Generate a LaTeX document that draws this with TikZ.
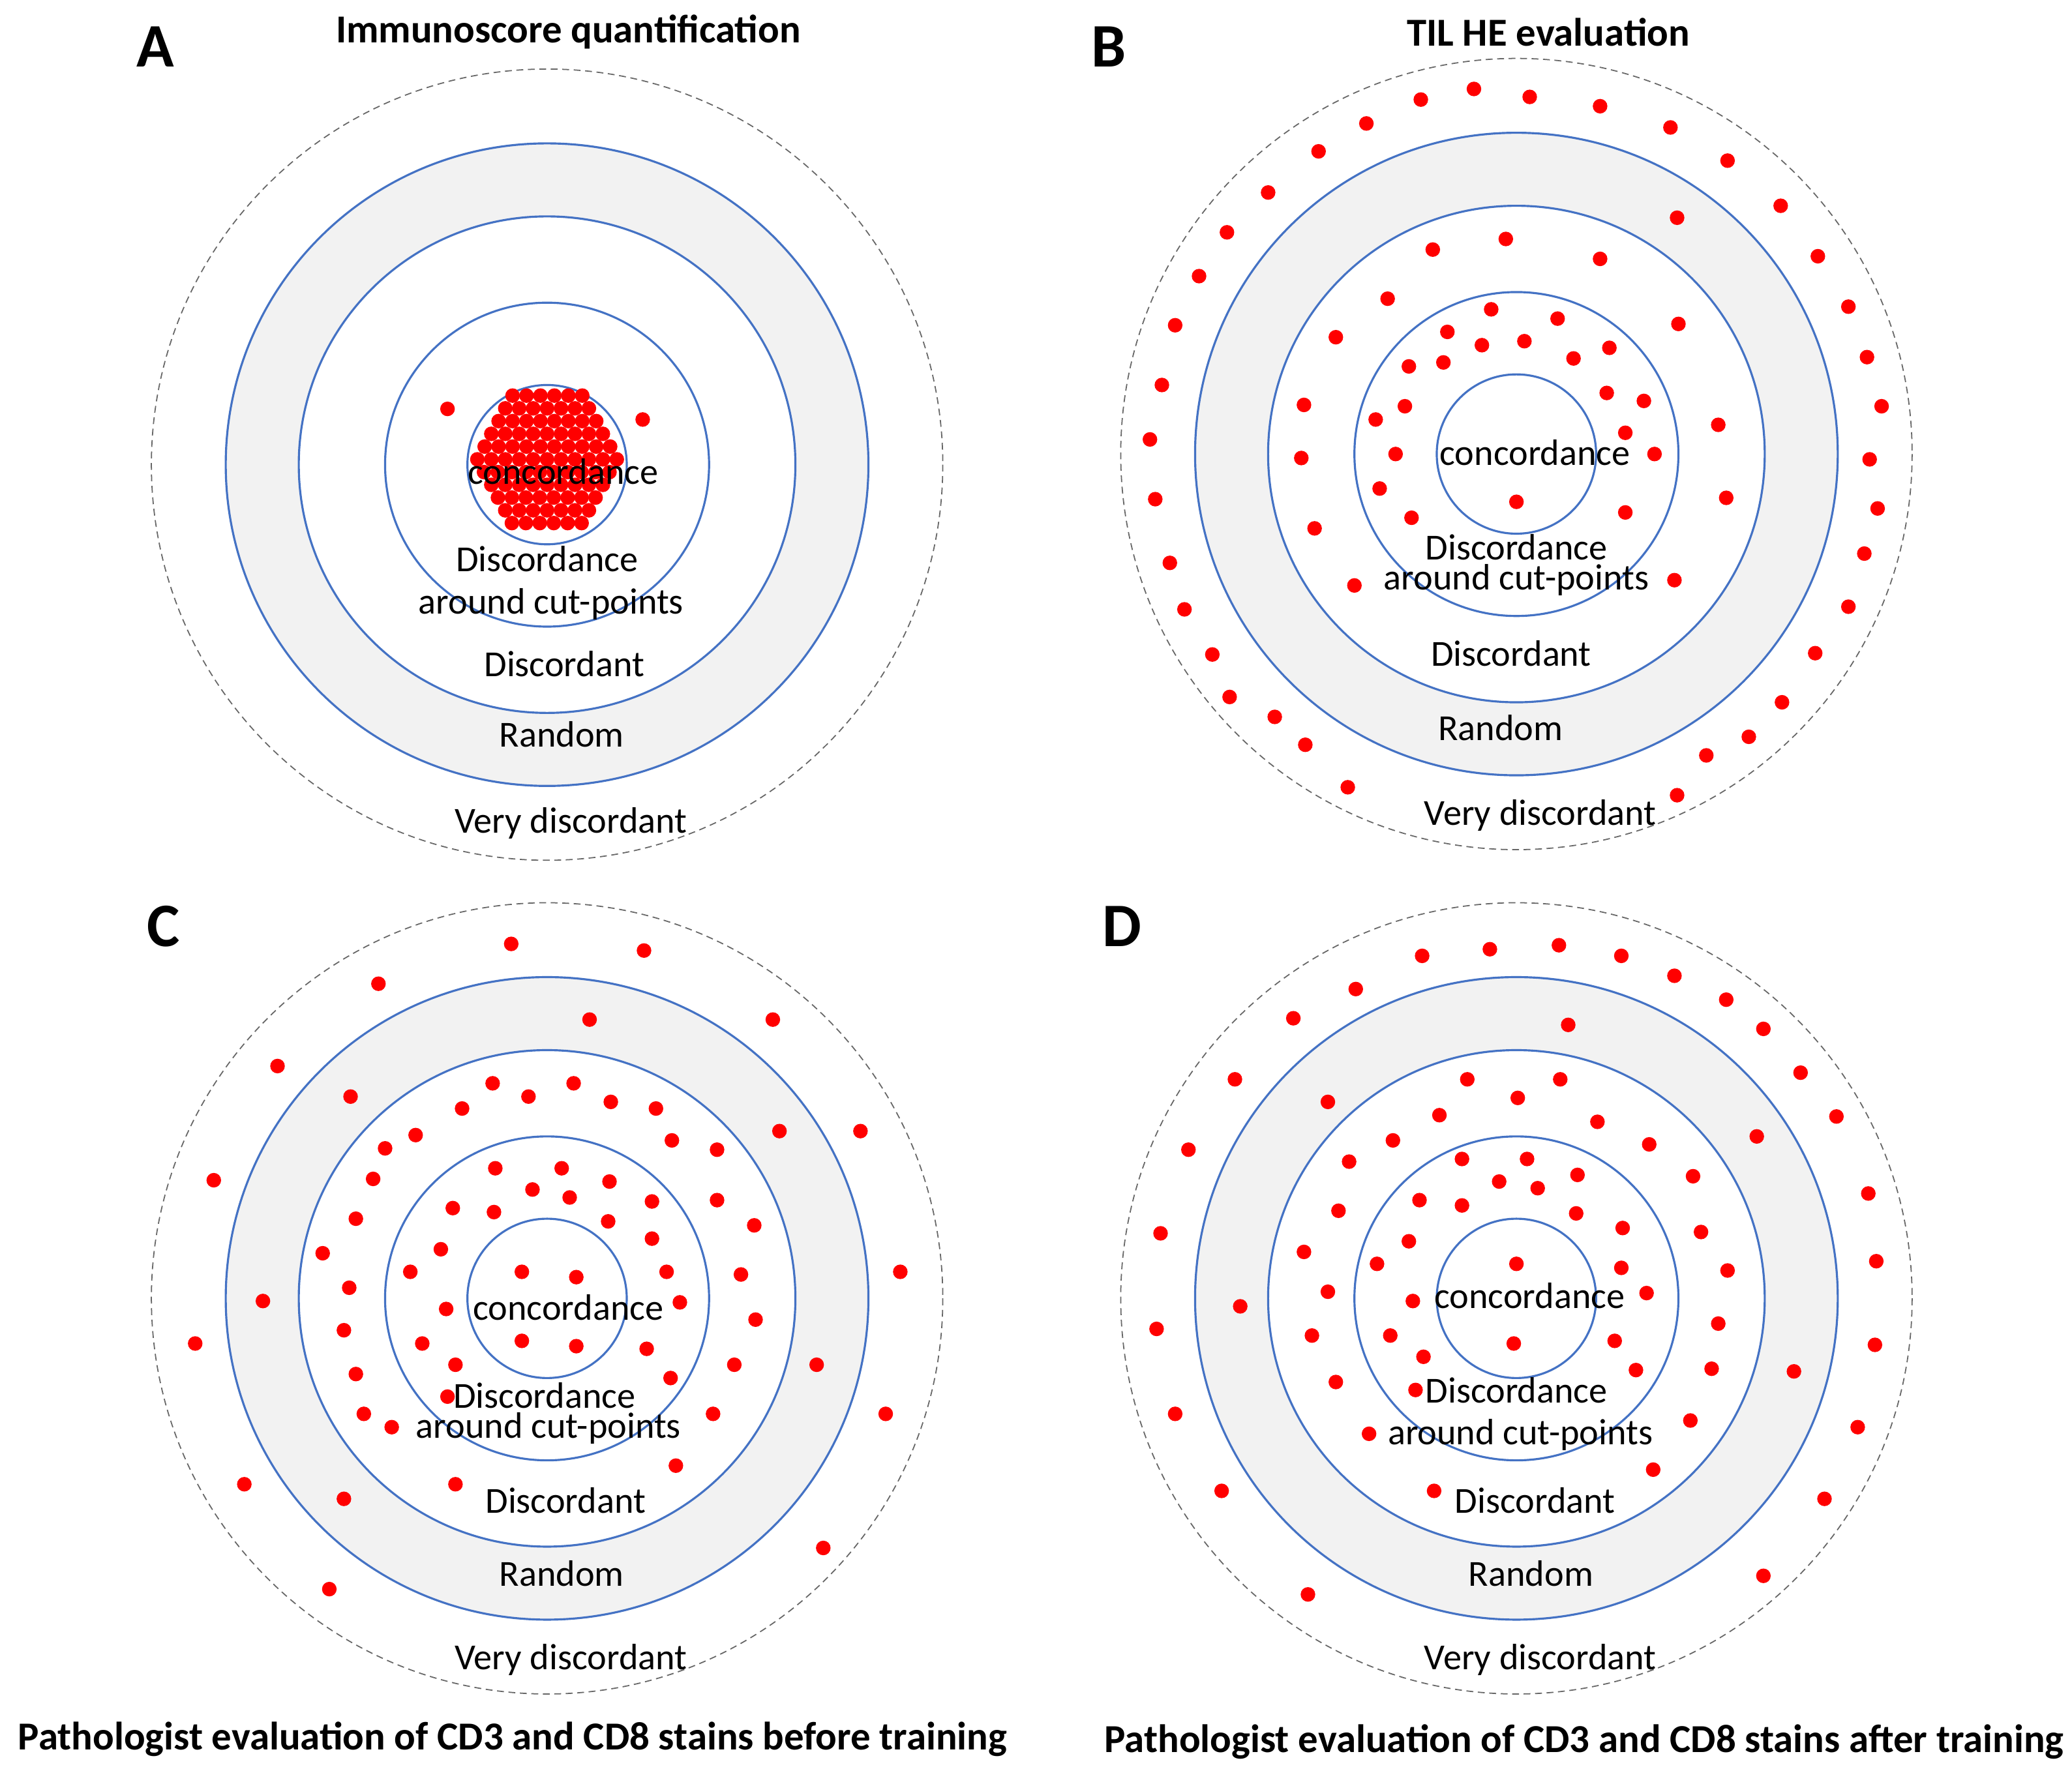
\documentclass[tikz,border=0pt]{standalone}
\usepackage{fontspec}
\setmainfont{Carlito}
\begin{document}
\begin{tikzpicture}[x=0.02036cm,y=-0.02036cm,
  blue ring/.style={draw={rgb,255:red,68;green,114;blue,196},line width=0.9pt},
  dot/.style={fill=red,draw=none},
  lab/.style={font=\fontsize{16}{18}\selectfont,inner sep=0pt},
  ttl/.style={font=\bfseries\fontsize{17.3}{19}\selectfont,inner sep=0pt},
  big/.style={font=\bfseries\fontsize{27}{29}\selectfont,inner sep=0pt}]
\useasboundingbox (0,0) rectangle (1560.4,1332.5);
\definecolor{ringgray}{RGB}{242,242,242}
\foreach \cx/\cy in {412/350,1142/342,412/978,1142/978}{
  \draw[gray!80!black,densely dashed,line width=0.5pt,fill=white] (\cx,\cy) circle (298);
  \fill[ringgray] (\cx,\cy) circle (242);
  \fill[white] (\cx,\cy) circle (187);
  \foreach \r in {242,187,122,60} \draw[blue ring] (\cx,\cy) circle (\r);
}
% Dots panel A
\foreach \i in {-5,...,5}{\foreach \j in {-5,...,5}{
  \pgfmathsetmacro{\px}{412+\i*10.5+mod(\j,2)*5}
  \pgfmathsetmacro{\py}{346+\j*9.6}
  \pgfmathsetmacro{\d}{sqrt((\px-412)^2+(\py-346)^2)}
  \ifdim\d pt<55pt \fill[red] (\px,\py) circle (5.5);\fi}}
\foreach \p in {(337,308),(484,316)} \fill[red] \p circle (5.5);
% Panel B
\foreach \p in {(1110,67),(1152,73),(1205,80),(1070,75),(1029,93),(993,114),(955,145),(924,175),(903,208),(885,245),(875,290),(866,331),(870,376),(881,424),(892,459),(913,493),(926,525),(960,540),(983,561),(1015,593),(1258,96),(1301,121),(1341,155),(1369,193),(1392,231),(1406,269),(1417,306),(1408,346),(1414,383),(1404,417),(1392,457),(1367,492),(1342,529),(1317,555),(1285,569),(1263,599),
(1079,188),(1134,180),(1205,195),(1263,164),(1045,225),(1006,254),(982,305),(980,345),(990,398),(1020,441),(1264,244),(1294,320),(1300,375),(1261,437),
(1123,233),(1173,240),(1090,250),(1148,257),(1116,260),(1212,262),(1185,270),(1061,276),(1087,273),(1210,296),(1238,302),(1036,316),(1058,306),(1224,326),(1051,342),(1246,342),(1039,368),(1063,390),(1224,386),(1142,378)}
  \fill[red] \p circle (5.5);
% Panel C
\foreach \p in {(385,711),(485,716),(285,741),(444,768),(582,768),(209,803),(264,826),(648,852),(161,889),(678,958),(198,980),(147,1012),(615,1028),(667,1065),(184,1118),(259,1129),(620,1166),(248,1197),
(371,816),(398,826),(432,816),(460,830),(494,835),(348,835),(313,855),(290,865),(506,859),(540,866),(587,852),(281,888),(540,904),(268,918),(568,923),(243,944),(558,960),(263,970),(569,994),(259,1002),(553,1028),(268,1035),(537,1065),(274,1065),(295,1075),(509,1104),(343,1118),
(373,880),(423,880),(401,896),(429,902),(459,890),(491,905),(341,910),(372,913),(458,920),(491,933),(332,941),(309,958),(502,958),(393,958),(434,962),(336,986),(512,981),(318,1012),(487,1016),(343,1028),(393,1010),(434,1014),(505,1038),(337,1052)}
  \fill[red] \p circle (5.5);
% Panel D
\foreach \p in {(1071,720),(1122,715),(1174,712),(1221,720),(1261,735),(1300,753),(1328,775),(1021,745),(974,767),(1181,772),(1356,808),(930,813),(1383,841),(895,866),(1407,899),(874,929),(1413,950),(934,984),(871,1001),(1412,1013),(1351,1033),(885,1065),(1399,1075),(920,1123),(1374,1129),(985,1201),(1328,1187),
(1105,813),(1143,827),(1175,813),(1000,830),(1084,840),(1203,845),(1049,859),(1016,875),(1242,862),(1323,856),(1275,886),(1008,912),(1281,928),(982,943),(1301,957),(1000,973),(1294,997),(988,1006),(1289,1031),(1006,1041),(1273,1070),(1031,1080),(1245,1107),(1080,1123),
(1101,873),(1150,873),(1129,890),(1158,895),(1188,885),(1069,904),(1101,908),(1187,914),(1222,925),(1061,935),(1037,952),(1221,955),(1142,952),(1064,980),(1240,974),(1047,1006),(1216,1010),(1072,1022),(1140,1012),(1232,1032),(1066,1047)}
  \fill[red] \p circle (5.5);
% Labels A
\node[lab] (a1) at (424,355) {concordance};
\node[lab] (a2) at (412,421) {Discordance};
\node[lab] (a3) at (415,455) {around cut-points};
\node[lab] (a4) at (425,500) {Discordant};
\node[lab] (a5) at (423,553) {Random};
\node[lab] (a6) at (430,620) {Very discordant};
% Labels B
\node[lab] (b1) at (1156,341) {concordance};
\node[lab] (b2) at (1142,412) {Discordance};
\node[lab] (b3) at (1142,437) {around cut-points};
\node[lab] (b4) at (1138,492) {Discordant};
\node[lab] (b5) at (1130,548) {Random};
\node[lab] (b6) at (1160,614) {Very discordant};
% Labels C
\node[lab] (c1) at (428,985) {concordance};
\node[lab] (c2) at (410,1051) {Discordance};
\node[lab] (c3) at (413,1076) {around cut-points};
\node[lab] (c4) at (426,1130) {Discordant};
\node[lab] (c5) at (423,1185) {Random};
\node[lab] (c6) at (430,1250) {Very discordant};
% Labels D
\node[lab] (d1) at (1152,976) {concordance};
\node[lab] (d2) at (1142,1047) {Discordance};
\node[lab] (d3) at (1145,1081) {around cut-points};
\node[lab] (d4) at (1156,1130) {Discordant};
\node[lab] (d5) at (1153,1185) {Random};
\node[lab] (d6) at (1160,1250) {Very discordant};
% Titles
\node[ttl] (t1) at (428,24) {Immunoscore quantification};
\node[ttl] (t2) at (1166,24) {TIL HE evaluation};
\node[ttl] (t3) at (386,1310) {Pathologist evaluation of CD3 and CD8 stains before training};
\node[ttl] (t4) at (1193,1312) {Pathologist evaluation of CD3 and CD8 stains after training};
\node[big] (A) at (117,35) {A};
\node[big] (B) at (835,35) {B};
\node[big] (C) at (123,698) {C};
\node[big] (D) at (845,698) {D};
\end{tikzpicture}
\end{document}
